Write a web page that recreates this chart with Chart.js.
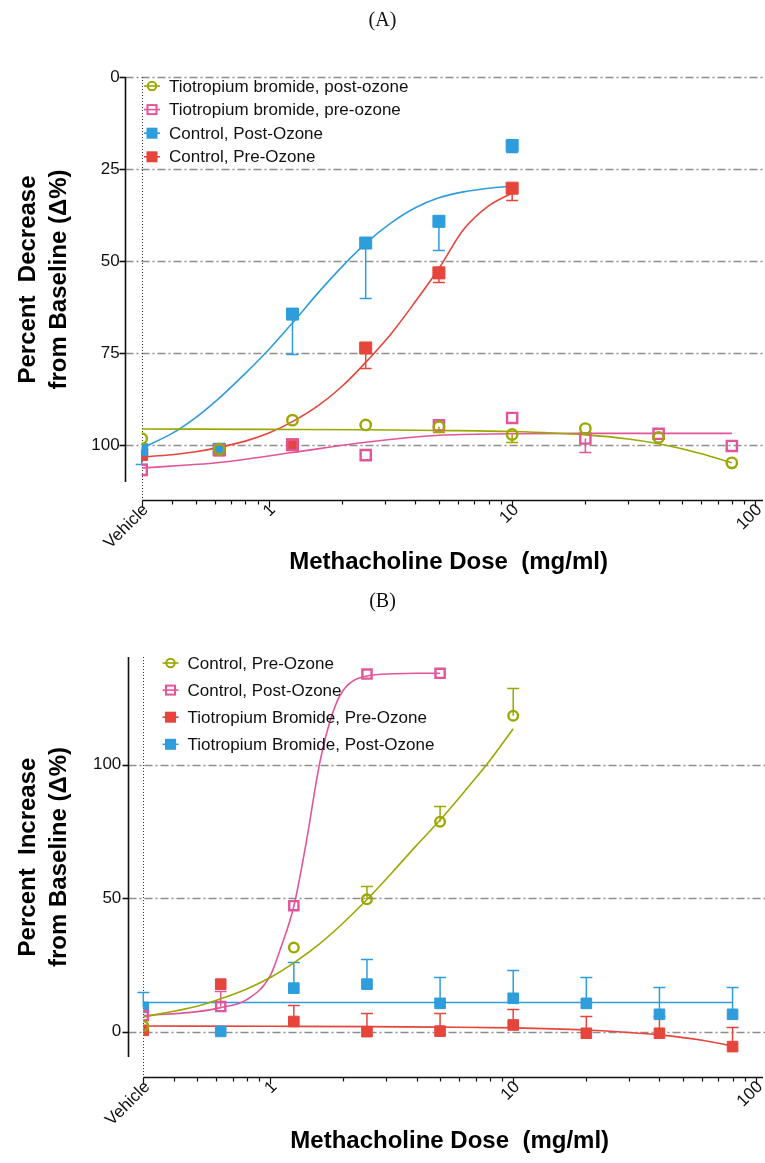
<!DOCTYPE html>
<html>
<head>
<meta charset="utf-8">
<script src="https://cdn.jsdelivr.net/npm/chart.js@4.4.0/dist/chart.umd.min.js"></script>
<style>
html, body { margin: 0; padding: 0; background: #fff; }
.wrap { position: absolute; left: 0; width: 765px; }
#wrapA { top: 0; height: 585px; }
#wrapB { top: 585px; height: 578px; }
.panel { position: absolute; left: 0; width: 765px; text-align: center; font-family: 'Liberation Serif', 'Times New Roman', serif; font-size: 20px; color: #111; }
</style>
</head>
<body>
<div class="wrap" id="wrapA"><canvas id="chartA"></canvas></div>
<div class="wrap" id="wrapB"><canvas id="chartB"></canvas></div>
<div class="panel" style="top:8px">(A)</div>
<div class="panel" style="top:589px">(B)</div>
<script>
// shared x axis (methacholine dose, mg/ml), vehicle plotted at 0.3
var doses = [0.3, 0.625, 1.25, 2.5, 5, 10, 20, 40, 80];
var xTickValues = [0.3, 1, 10, 100];
var xTickLabels = ['Vehicle', '1', '10', '100'];
var xMinorTicks = [0.4, 0.5, 0.6, 0.7, 0.8, 0.9, 2, 3, 4, 5, 6, 7, 8, 9, 20, 30, 40, 50, 60, 70, 80, 90];

// (A) percent decrease from baseline
var aYTicks = [0, 25, 50, 75, 100];
var aLabels = ['Tiotropium bromide, post-ozone', 'Tiotropium bromide, pre-ozone', 'Control, Post-Ozone', 'Control, Pre-Ozone'];
var aTioPost = [98.2, 101.1, 93.2, 94.5, 95.0, 97.1, 95.5, 97.9, 104.8];
var aTioPostErr = [0, 0, 0, 0, 1.4, 2.1, 0, 0, 0];
var aTioPre = [106.7, 101.3, 99.9, 102.7, 94.6, 92.6, 98.2, 96.9, 100.2];
var aTioPreErr = [0, 0, 0, 0, 0, 0, 3.7, 0, 0];
var aCtrlPost = [101.2, 101.1, 64.4, 45.1, 39.2, 18.6, null, null, null];
var aCtrlPostErr = [4, 0, 10.8, 14.9, 7.7, 1.8, 0, 0, 0];
var aCtrlPre = [102.5, 101.3, 99.9, 73.6, 53.2, 30.2, null, null, null];
var aCtrlPreErr = [0, 0, 0, 5.4, 2.6, 3.2, 0, 0, 0];

// (A) fitted curves
var aTioPostFitX = [0.3, 1, 2.5, 5, 10, 20, 30, 40, 60, 80];
var aTioPostFit = [95.6, 95.7, 95.8, 96.0, 96.3, 97.2, 98.3, 99.6, 102.3, 104.8];
var aTioPreFitX = [0.3, 0.625, 1.25, 2.5, 5, 10, 20, 40, 80];
var aTioPreFit = [106.2, 104.7, 102.0, 99.2, 97.3, 96.9, 96.8, 96.8, 96.8];
var aCtrlFitX = [0.3, 0.4, 0.5, 0.625, 0.8, 1, 1.25, 1.6, 2, 2.5, 3.2, 4, 5, 6.3, 8, 10];
var aCtrlPostFit = [100.8, 96.8, 92.5, 87.2, 80.5, 74, 66.8, 58.5, 51.5, 45.2, 39.5, 35.5, 32.8, 31.2, 30.2, 29.6];
var aCtrlPreFit = [103.2, 102.6, 101.8, 100.6, 98.9, 96.7, 93.6, 89.2, 84, 77.5, 69.5, 61, 52, 41.5, 35, 31.5];

// (B) percent increase from baseline
var bYTicks = [0, 50, 100];
var bLabels = ['Control, Pre-Ozone', 'Control, Post-Ozone', 'Tiotropium Bromide, Pre-Ozone', 'Tiotropium Bromide, Post-Ozone'];
var bCtrlPre = [2.1, null, 31.5, 49.6, 78.7, 118.4, null, null, null];
var bCtrlPreErr = [0, 0, 0, 4.8, 6, 10.3, 0, 0, 0];
var bCtrlPost = [6.0, 9.4, 47.2, 134.0, 134.3, null, null, null, null];
var bCtrlPostErr = [0, 6, 0, 0, 0, 0, 0, 0, 0];
var bTioPre = [0.5, 17.8, 3.8, 0.0, 0.2, 2.5, -0.6, -0.6, -5.6];
var bTioPreErr = [0, 0, 6.2, 7.1, 6.9, 6.0, 6.5, 6.6, 7.2];
var bTioPost = [9.1, 0.1, 16.3, 17.8, 10.6, 12.5, 10.6, 6.5, 6.5];
var bTioPostErr = [5.8, 0, 9.9, 9.4, 10, 10.6, 10, 10.4, 10.4];

// (B) fitted curves
var bCtrlPreFitX = [0.3, 0.5, 0.625, 0.8, 1, 1.25, 1.6, 2, 2.5, 3.2, 4, 5, 6.3, 8, 10];
var bCtrlPreFit = [5.5, 9.5, 12.3, 16, 20.3, 25.8, 33, 40.8, 49.5, 60, 69.8, 79.3, 90, 101.5, 113.5];
var bCtrlPostFitX = [0.3, 0.5, 0.625, 0.8, 1, 1.1, 1.25, 1.4, 1.6, 1.8, 2, 2.5, 3.2, 4, 5];
var bCtrlPostFit = [6, 7.5, 9, 12, 21, 31, 47, 70, 101, 119, 128, 133.3, 134.1, 134.3, 134.3];
var bTioPreFitX = [0.3, 1, 2.5, 5, 10, 20, 30, 40, 60, 80];
var bTioPreFit = [2.1, 2.0, 1.9, 1.7, 1.4, 0.6, -0.3, -1.2, -3.2, -5.4];
var bTioPostFitX = [0.3, 80];
var bTioPostFit = [10.9, 10.9];

var OLIVE = '#9aa800', PINK = '#e2559b', BLUE = '#2e9ddb', RED = '#e6453c';
var FONT = "'Liberation Sans', Arial, Helvetica, sans-serif";

function pts(xs, ys) {
    var out = [];
    for (var i = 0; i < xs.length; i++) {
        out.push({ x: xs[i], y: ys[i] });
    }
    return out;
}

// marker series: open = circle/square outline, filled = solid square
function markers(label, ys, errs, color, style, open, radius) {
    return {
        label: label,
        data: pts(doses, ys),
        errors: errs,
        showLine: false,
        pointStyle: style,
        pointRadius: radius,
        pointBorderWidth: open ? 2.4 : 1,
        borderColor: color,
        backgroundColor: open ? 'rgba(0,0,0,0)' : color,
        legendOpen: open,
        order: 1
    };
}

function fit(xs, ys, color) {
    return {
        data: pts(xs, ys),
        showLine: true,
        pointRadius: 0,
        borderColor: color,
        borderWidth: 1.6,
        cubicInterpolationMode: 'monotone',
        fill: false,
        order: 5
    };
}

var offsetAxes = {
    id: 'offsetAxes',
    beforeDatasetsDraw: function (chart, args, o) {
        var ctx = chart.ctx, area = chart.chartArea;
        var xs = chart.scales.x, ys = chart.scales.y;
        var axisX = Math.round(area.left - o.yGap) + 0.5;
        var axisY = Math.round(area.bottom + o.xGap) + 0.5;
        var vx = Math.round(xs.getPixelForValue(xTickValues[0])) + 0.5;
        ctx.save();
        // dash-dot grid
        ctx.strokeStyle = '#8e8e8e';
        ctx.lineWidth = 1.3;
        ctx.setLineDash([8, 3, 2, 3]);
        o.yTicks.forEach(function (v) {
            var py = Math.round(ys.getPixelForValue(v)) + 0.5;
            ctx.beginPath(); ctx.moveTo(axisX, py); ctx.lineTo(chart.width, py); ctx.stroke();
        });
        // dotted line at vehicle
        ctx.strokeStyle = '#333';
        ctx.lineWidth = 1;
        ctx.setLineDash([1, 2]);
        ctx.beginPath(); ctx.moveTo(vx, area.top); ctx.lineTo(vx, axisY); ctx.stroke();
        ctx.setLineDash([]);
        // y axis
        ctx.strokeStyle = '#111';
        ctx.lineWidth = 1.6;
        ctx.beginPath(); ctx.moveTo(axisX, area.top); ctx.lineTo(axisX, area.bottom); ctx.stroke();
        o.yTicks.forEach(function (v) {
            var py = Math.round(ys.getPixelForValue(v)) + 0.5;
            ctx.beginPath(); ctx.moveTo(axisX - 6, py); ctx.lineTo(axisX, py); ctx.stroke();
        });
        // x axis
        ctx.beginPath(); ctx.moveTo(vx, axisY); ctx.lineTo(chart.width - 2, axisY); ctx.stroke();
        ctx.lineWidth = 1.2;
        xTickValues.forEach(function (v) {
            var px = Math.round(xs.getPixelForValue(v)) + 0.5;
            ctx.beginPath(); ctx.moveTo(px, axisY); ctx.lineTo(px, axisY + 7); ctx.stroke();
        });
        xMinorTicks.forEach(function (v) {
            var px = Math.round(xs.getPixelForValue(v)) + 0.5;
            ctx.beginPath(); ctx.moveTo(px, axisY); ctx.lineTo(px, axisY + 4); ctx.stroke();
        });
        // one-sided error bars
        ctx.lineWidth = 1.5;
        chart.data.datasets.forEach(function (ds) {
            if (!ds.errors) return;
            ctx.strokeStyle = ds.borderColor;
            ds.data.forEach(function (p, i) {
                var e = ds.errors[i];
                if (p.y === null || !e) return;
                var px = xs.getPixelForValue(p.x);
                var y0 = ys.getPixelForValue(p.y), y1 = Math.round(ys.getPixelForValue(p.y + e)) + 0.5;
                ctx.beginPath(); ctx.moveTo(px, y0); ctx.lineTo(px, y1); ctx.stroke();
                ctx.beginPath(); ctx.moveTo(px - 6, y1); ctx.lineTo(px + 6, y1); ctx.stroke();
            });
        });
        ctx.restore();
    },
    afterDraw: function (chart, args, o) {
        var ctx = chart.ctx;
        var series = chart.data.datasets.filter(function (d) { return d.label; });
        ctx.save();
        ctx.font = '17px ' + FONT;
        ctx.textBaseline = 'middle';
        ctx.fillStyle = '#111';
        series.forEach(function (ds, i) {
            var y = o.legendY + i * o.legendStep;
            var x = o.legendX;
            ctx.strokeStyle = ds.borderColor;
            ctx.lineWidth = 1.6;
            ctx.beginPath(); ctx.moveTo(x - 8, y); ctx.lineTo(x + 8, y); ctx.stroke();
            ctx.lineWidth = 2;
            if (ds.pointStyle === 'circle') {
                ctx.beginPath(); ctx.arc(x, y, 4.2, 0, Math.PI * 2); ctx.stroke();
            } else if (ds.legendOpen) {
                ctx.strokeRect(x - 4.5, y - 4.5, 9, 9);
            } else {
                ctx.fillStyle = ds.borderColor;
                ctx.fillRect(x - 5.5, y - 5.5, 11, 11);
            }
            ctx.fillStyle = '#111';
            ctx.fillText(ds.label, x + 17, y + 1);
        });
        ctx.restore();
    }
};

function makeChart(id, cfg) {
    return new Chart(document.getElementById(id), {
        type: 'scatter',
        data: { datasets: cfg.datasets },
        plugins: [offsetAxes],
        options: {
            responsive: true,
            maintainAspectRatio: false,
            animation: false,
            layout: { padding: { left: 0, right: cfg.padRight, top: cfg.padTop, bottom: 0 } },
            plugins: {
                legend: { display: false },
                tooltip: { enabled: false },
                offsetAxes: { yTicks: cfg.yTicks, yGap: cfg.yGap, xGap: cfg.xGap, legendX: cfg.legendX, legendY: cfg.legendY, legendStep: cfg.legendStep }
            },
            scales: {
                x: {
                    type: 'logarithmic',
                    min: xTickValues[0],
                    max: 100,
                    grid: { display: false, drawTicks: false },
                    border: { display: false },
                    afterBuildTicks: function (s) { s.ticks = xTickValues.map(function (v) { return { value: v }; }); },
                    afterFit: function (s) {
                        s.height = cfg.xHeight;
                        s.paddingLeft = 0;
                        s.paddingRight = 0;
                    },
                    ticks: {
                        autoSkip: false, minRotation: 45, maxRotation: 45, padding: cfg.xLabelPad, labelOffset: 4,
                        color: '#111', font: { family: FONT, size: 17 },
                        callback: function (v, i) { return xTickLabels[i]; }
                    },
                    title: {
                        display: true, text: 'Methacholine Dose  (mg/ml)', color: '#000',
                        font: { family: FONT, size: 24, weight: 'bold' },
                        padding: { top: 0, bottom: cfg.xTitlePad }
                    }
                },
                y: {
                    min: cfg.yMin,
                    max: cfg.yMax,
                    reverse: cfg.reverse,
                    grid: { display: false, drawTicks: false },
                    border: { display: false },
                    afterBuildTicks: function (s) { s.ticks = cfg.yTicks.map(function (v) { return { value: v }; }); },
                    afterFit: function (s) {
                        s.width = cfg.yWidth;
                        s.paddingTop = 0;
                        s.paddingBottom = 0;
                    },
                    ticks: { padding: cfg.yLabelPad, color: '#111', font: { family: FONT, size: 17 } },
                    title: {
                        display: true, text: cfg.yTitle, color: '#000',
                        font: { family: FONT, size: 24, weight: 'bold', lineHeight: 1.3 },
                        padding: { top: 13, bottom: 0 }
                    }
                }
            }
        }
    });
}

makeChart('chartA', {
    datasets: [
        markers(aLabels[0], aTioPost, aTioPostErr, OLIVE, 'circle', true, 5.2),
        markers(aLabels[1], aTioPre, aTioPreErr, PINK, 'rect', true, 7.2),
        markers(aLabels[2], aCtrlPost, aCtrlPostErr, BLUE, 'rect', false, 8.5),
        markers(aLabels[3], aCtrlPre, aCtrlPreErr, RED, 'rect', false, 8.5),
        fit(aTioPostFitX, aTioPostFit, OLIVE),
        fit(aTioPreFitX, aTioPreFit, PINK),
        fit(aCtrlFitX, aCtrlPostFit, BLUE),
        fit(aCtrlFitX, aCtrlPreFit, RED)
    ],
    yTicks: aYTicks, yMin: 0, yMax: 110, reverse: true,
    yTitle: ['Percent  Decrease', 'from Baseline (\u0394%)'],
    padTop: 77, padRight: 2, yWidth: 141.7, xHeight: 103,
    yGap: 16.5, xGap: 18, xLabelPad: 18, xTitlePad: 8, yLabelPad: 22,
    legendX: 152, legendY: 86, legendStep: 23.6
});

makeChart('chartB', {
    datasets: [
        markers(bLabels[0], bCtrlPre, bCtrlPreErr, OLIVE, 'circle', true, 4.8),
        markers(bLabels[1], bCtrlPost, bCtrlPostErr, PINK, 'rect', true, 6.5),
        markers(bLabels[2], bTioPre, bTioPreErr, RED, 'rect', false, 7.5),
        markers(bLabels[3], bTioPost, bTioPostErr, BLUE, 'rect', false, 7.5),
        fit(bCtrlPreFitX, bCtrlPreFit, OLIVE),
        fit(bCtrlPostFitX, bCtrlPostFit, PINK),
        fit(bTioPreFitX, bTioPreFit, RED),
        fit(bTioPostFitX, bTioPostFit, BLUE)
    ],
    yTicks: bYTicks, yMin: -9.5, yMax: 140.4, reverse: false,
    yTitle: ['Percent  Increase', 'from Baseline (\u0394%)'],
    padTop: 72, padRight: 0, yWidth: 143.3, xHeight: 106,
    yGap: 15, xGap: 20, xLabelPad: 20, xTitlePad: 7, yLabelPad: 22,
    legendX: 170.5, legendY: 78, legendStep: 27.1
});
</script>
</body>
</html>
